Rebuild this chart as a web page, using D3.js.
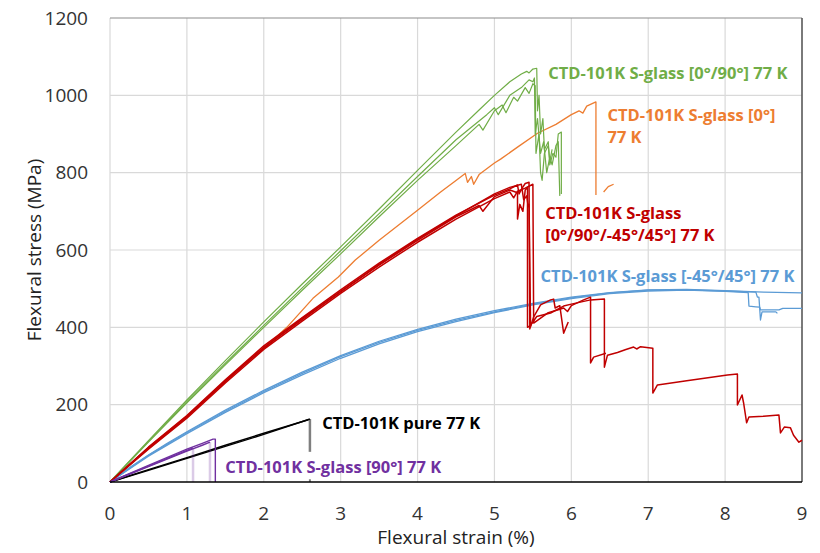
<!DOCTYPE html>
<html>
<head>
<meta charset="utf-8">
<script src="https://cdn.jsdelivr.net/npm/d3@7"></script>
<style>
  body { margin: 0; background: #fff; }
  svg { display: block; }
</style>
</head>
<body>
<div id="chart"></div>
<script>
// Flexural stress-strain curves at 77 K
const xTicks = [0, 1, 2, 3, 4, 5, 6, 7, 8, 9];
const yTicks = [0, 200, 400, 600, 800, 1000, 1200];

// [strain %, stress MPa]
const greenA = [[0,0],[0.5,107],[1,212],[1.5,314],[2,414],[2.5,512],[3,608],[3.5,706],[4,806],[4.5,905],[4.8,962],[5,1000],[5.2,1035],[5.35,1055],[5.42,1062],[5.45,1058],[5.5,1068],[5.55,1070],[5.56,960],[5.58,1000],[5.6,900],[5.63,940],[5.65,860],[5.7,880],[5.72,820],[5.76,850],[5.8,840],[5.83,900],[5.87,905],[5.87,745]];
const greenB = [[0,0],[0.5,103],[1,205],[1.5,303],[2,400],[2.5,496],[3,590],[3.5,686],[4,780],[4.5,870],[4.8,925],[4.85,910],[5,960],[5.1,975],[5.15,955],[5.25,995],[5.3,985],[5.4,1020],[5.45,1005],[5.5,1030],[5.53,1025],[5.54,850],[5.58,900],[5.6,800],[5.62,780],[5.65,850],[5.7,870],[5.72,830],[5.75,860]];
const greenC = [[0,0],[0.5,105],[1,208],[1.5,307],[2,405],[2.5,502],[3,598],[3.5,694],[4,790],[4.5,885],[4.9,950],[5,968],[5.05,950],[5.2,1000],[5.35,1020],[5.45,1040],[5.5,1035],[5.52,1045],[5.53,900],[5.56,940],[5.6,850],[5.64,880],[5.68,800],[5.72,840],[5.75,820],[5.8,870],[5.83,880],[5.85,740]];

const orangeA = [[0,0],[0.5,88],[1,170],[1.5,258],[1.8,315],[2,345],[2.3,400],[2.64,475],[2.97,530],[3.19,574],[3.5,625],[4,703],[4.3,750],[4.5,780],[4.62,798],[4.65,775],[4.7,790],[4.73,770],[4.8,795],[5,825],[5.08,835],[5.3,866],[5.56,902],[5.8,925],[6,950],[6.1,960],[6.15,954],[6.2,972],[6.32,983],[6.32,742]];
const orangeB = [[6.42,750],[6.48,764],[6.55,770]];

const redA = [[0,0],[0.5,90],[1,172],[1.5,264],[2,352],[2.5,425],[3,497],[3.5,566],[4,630],[4.5,690],[5,742],[5.2,758],[5.3,768],[5.32,745],[5.36,760],[5.4,772],[5.45,775],[5.46,396],[5.51,427],[5.6,458],[5.73,471],[5.77,473],[5.79,450],[5.85,456],[5.9,385],[5.96,414]];
const redB = [[0,0],[0.5,85],[1,165],[1.5,256],[2,343],[2.5,416],[3,488],[3.5,556],[4,620],[4.5,680],[5,733],[5.2,750],[5.25,735],[5.3,752],[5.4,760],[5.5,770],[5.51,411],[5.6,424],[5.7,438],[5.82,445],[5.9,450],[5.95,441],[6,456],[6.16,471],[6.25,478],[6.25,308],[6.29,323],[6.45,333]];
const redC = [[0,0],[0.5,87],[1,168],[1.5,260],[2,348],[2.5,420],[3,493],[3.5,561],[4,625],[4.5,686],[4.8,715],[4.85,700],[5,738],[5.2,755],[5.3,748],[5.3,680],[5.33,718],[5.37,700],[5.4,755],[5.43,762],[5.43,400],[5.47,405],[5.55,428],[5.73,437],[5.9,455],[6,460],[6.25,471],[6.43,473],[6.43,297],[6.47,328],[6.6,335],[6.7,342],[6.81,349],[6.85,344],[6.9,350],[7.06,346],[7.06,230],[7.12,251],[7.5,262],[8.03,277],[8.16,279],[8.16,199],[8.22,225],[8.24,205],[8.28,153],[8.31,168],[8.5,170],[8.7,173],[8.72,127],[8.77,142],[8.85,140],[8.89,121],[8.96,103],[9,108]];
const redD = [[0,0],[0.5,89],[1,170],[1.5,262],[2,346],[2.5,423],[3,492],[3.5,563],[4,628],[4.5,688],[5,745],[5.2,762],[5.35,770],[5.38,730],[5.42,740],[5.44,712],[5.45,718],[5.47,402]];

const blueA = [[0,0],[0.25,37],[0.5,70],[0.75,101],[1,130],[1.5,186],[2,237],[2.5,284],[3,327],[3.5,364],[4,395],[4.5,421],[5,443],[5.5,462],[6,478],[6.5,490],[7,497],[7.5,498],[8,495],[8.5,491],[9,489]];
const blueB = [[0,0],[0.5,67],[1,125],[1.5,180],[2,231],[2.5,277],[3,320],[3.5,357],[4,389],[4.5,415],[5,438],[5.5,458],[6,474],[6.5,487],[7,494],[7.5,496],[8,493],[8.3,490],[8.31,455],[8.4,453],[8.45,452],[8.46,445],[8.7,445],[8.75,449],[9,449]];
const blueC = [[0,0],[0.5,69],[1,128],[1.5,183],[2,234],[2.5,281],[3,324],[3.5,361],[4,392],[4.5,418],[5,440],[5.5,460],[6,476],[6.5,489],[7,496],[7.5,497],[8,494],[8.4,491],[8.42,478],[8.44,478],[8.46,419],[8.48,440],[8.66,440],[8.68,436]];

const blackA = [[0,0],[0.5,32],[1,63],[1.5,95],[2,126],[2.58,161]];
const blackB = [[0,0],[0.5,30],[1,61],[1.5,92],[2,123],[2.6,163]];
const blackDrop = [[2.6,163],[2.6,78]];
const blackFoot = [[2.6,7],[2.6,0]];

const purpleA = [[0,0],[0.5,43],[1,85],[1.2,100],[1.34,111],[1.37,111],[1.37,0]];
const purpleB = [[0,0],[0.5,40],[1,80],[1.2,95],[1.3,103]];
const purpleC = [[0,0],[0.5,41],[1.08,88]];
const purpleDrops = [[[1.3,103],[1.3,0]], [[1.08,88],[1.08,0]]];

// label text, colour, anchor point in data units (left, baseline)
const labels = [
  { lines: ['CTD-101K S-glass [0°/90°] 77 K'], color: '#70ad47', at: [5.70, 1043] },
  { lines: ['CTD-101K S-glass [0°]', '77 K'], color: '#ed7d31', at: [6.47, 934] },
  { lines: ['CTD-101K S-glass', '[0°/90°/-45°/45°] 77 K'], color: '#c00000', at: [5.66, 680] },
  { lines: ['CTD-101K S-glass [-45°/45°] 77 K'], color: '#5b9bd5', at: [5.6, 517] },
  { lines: ['CTD-101K pure 77 K'], color: '#000000', at: [2.76, 136] },
  { lines: ['CTD-101K S-glass [90°] 77 K'], color: '#7030a0', at: [1.5, 22] }
];

const W = 820, H = 553;
const margin = { top: 18, right: 18, bottom: 71, left: 110 };
const width = W - margin.left - margin.right;
const height = H - margin.top - margin.bottom;

const svg = d3.select('#chart').append('svg')
  .attr('width', W)
  .attr('height', H);

const g = svg.append('g')
  .attr('transform', `translate(${margin.left},${margin.top})`);

const x = d3.scaleLinear().domain([0, 9]).range([0, width]);
const y = d3.scaleLinear().domain([0, 1200]).range([height, 0]);

// grid
g.append('g')
  .selectAll('line')
  .data(xTicks.slice(0, -1))
  .join('line')
  .attr('x1', d => x(d)).attr('x2', d => x(d))
  .attr('y1', 0).attr('y2', height)
  .attr('stroke', '#d9d9d9')
  .attr('stroke-width', 1.2);

g.append('g')
  .selectAll('line')
  .data(yTicks.slice(1, -1))
  .join('line')
  .attr('x1', 0).attr('x2', width)
  .attr('y1', d => y(d)).attr('y2', d => y(d))
  .attr('stroke', '#d9d9d9')
  .attr('stroke-width', 1.2);

// frame: top and right darker, bottom axis black
g.append('line')
  .attr('x1', 0).attr('x2', width).attr('y1', 0).attr('y2', 0)
  .attr('stroke', '#8c8c8c').attr('stroke-width', 1.2);
g.append('line')
  .attr('x1', width).attr('x2', width).attr('y1', 0).attr('y2', height)
  .attr('stroke', '#595959').attr('stroke-width', 1.6);

// curves
const line = d3.line().x(d => x(d[0])).y(d => y(d[1]));

const curves = [
  { data: blueA, color: '#5b9bd5', w: 1.3 },
  { data: blueB, color: '#5b9bd5', w: 1.3 },
  { data: blueC, color: '#5b9bd5', w: 1.3 },
  { data: orangeA, color: '#ed7d31', w: 1.3 },
  { data: orangeB, color: '#ed7d31', w: 1.3 },
  { data: greenA, color: '#70ad47', w: 1.2 },
  { data: greenB, color: '#70ad47', w: 1.2 },
  { data: greenC, color: '#70ad47', w: 1.2 },
  { data: redA, color: '#c00000', w: 1.5 },
  { data: redB, color: '#c00000', w: 1.5 },
  { data: redC, color: '#c00000', w: 1.5 },
  { data: redD, color: '#c00000', w: 1.5 },
  { data: blackDrop, color: '#7f7f7f', w: 2.5 },
  { data: blackFoot, color: '#7f7f7f', w: 2 },
  { data: blackA, color: '#000000', w: 1.4 },
  { data: blackB, color: '#000000', w: 1.4 },
  { data: purpleDrops[0], color: '#7030a0', w: 2.5, o: 0.25 },
  { data: purpleDrops[1], color: '#7030a0', w: 2.5, o: 0.25 },
  { data: purpleA, color: '#7030a0', w: 1.4 },
  { data: purpleB, color: '#7030a0', w: 1.4 },
  { data: purpleC, color: '#7030a0', w: 1.4 }
];

g.append('g')
  .selectAll('path')
  .data(curves)
  .join('path')
  .attr('d', d => line(d.data))
  .attr('fill', 'none')
  .attr('stroke', d => d.color)
  .attr('stroke-width', d => d.w)
  .attr('stroke-opacity', d => d.o || 1)
  .attr('stroke-linejoin', 'round');

// x axis line
g.append('line')
  .attr('x1', 0).attr('x2', width).attr('y1', height).attr('y2', height)
  .attr('stroke', '#000').attr('stroke-width', 1.6);

// tick labels
g.append('g')
  .selectAll('text')
  .data(xTicks)
  .join('text')
  .attr('x', d => x(d))
  .attr('y', height + 38)
  .attr('text-anchor', 'middle')
  .style('font-family', '"Open Sans", sans-serif')
  .style('font-size', '19px')
  .style('fill', '#333')
  .text(d => d);

g.append('g')
  .selectAll('text')
  .data(yTicks)
  .join('text')
  .attr('x', -22)
  .attr('y', d => y(d))
  .attr('dy', '0.35em')
  .attr('text-anchor', 'end')
  .style('font-family', '"Open Sans", sans-serif')
  .style('font-size', '19px')
  .style('fill', '#333')
  .text(d => d);

// axis titles
svg.append('text')
  .attr('x', margin.left + width / 2)
  .attr('y', 544)
  .attr('text-anchor', 'middle')
  .style('font-family', '"Open Sans", sans-serif')
  .style('font-size', '19px')
  .style('fill', '#222')
  .text('Flexural strain (%)');

svg.append('text')
  .attr('transform', `translate(41, ${margin.top + height / 2}) rotate(-90)`)
  .attr('text-anchor', 'middle')
  .style('font-family', '"Open Sans", sans-serif')
  .style('font-size', '19px')
  .style('fill', '#222')
  .text('Flexural stress (MPa)');

// series labels
labels.forEach(l => {
  const t = g.append('text')
    .attr('x', x(l.at[0]))
    .attr('y', y(l.at[1]))
    .style('font-family', '"Open Sans", sans-serif')
    .style('font-size', '16.5px')
    .style('font-weight', 'bold')
    .style('fill', l.color);
  l.lines.forEach((s, i) => {
    t.append('tspan')
      .attr('x', x(l.at[0]))
      .attr('dy', i === 0 ? 0 : 22)
      .text(s);
  });
});
</script>
</body>
</html>
